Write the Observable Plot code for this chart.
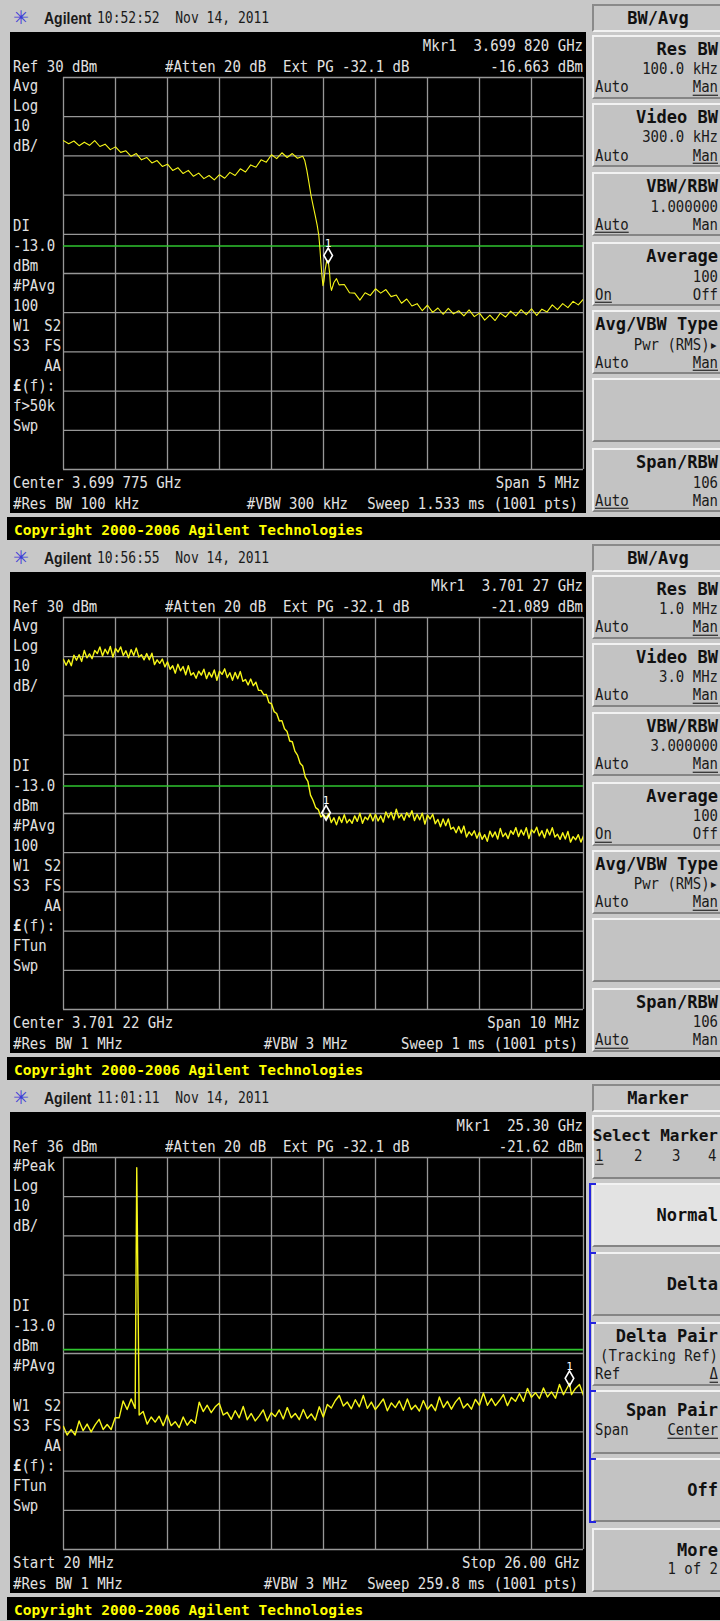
<!DOCTYPE html>
<html>
<head>
<meta charset="utf-8">
<script src="https://cdn.jsdelivr.net/npm/d3@7"></script>
<script src="https://cdn.jsdelivr.net/npm/@observablehq/plot@0.6"></script>
<style>
html,body{margin:0;padding:0}
body{width:720px;height:1621px;position:relative;overflow:hidden;background:#c8c8c8}
.panel{position:absolute;left:0;width:720px;height:540px;overflow:hidden;background:#c8c8c8}
.screen{position:absolute;left:10px;top:32px;width:576px;height:481px;background:#000}
.screen svg{display:block}
.lbl{position:absolute;white-space:pre;line-height:18px;height:18px}
.scr{color:#e2e2e2;font-family:"DejaVu Sans Mono",monospace;font-size:14px;transform:scaleY(1.15)}
.hd{color:#1a1a1a;font-family:"DejaVu Sans Mono",monospace;font-size:13px;transform:scaleY(1.25)}
.hdb{color:#1a1a1a;font-family:"Liberation Sans",Arial,sans-serif;font-size:14px;font-weight:bold;transform:scaleY(1.15)}
.ico{color:#3c3cd8;font-family:"DejaVu Sans",sans-serif;font-size:19px}
.kt{color:#111;font-family:"DejaVu Sans Mono",monospace;font-size:17px;font-weight:bold}
.kv{color:#1a1a1a;font-family:"DejaVu Sans Mono",monospace;font-size:14px;transform:scaleY(1.1)}
.cp{color:#ffff00;font-family:"DejaVu Sans Mono",monospace;font-size:14.5px;font-weight:bold}
.u{text-decoration:underline;text-underline-offset:2px}
.key{position:absolute;left:592px;width:140px;height:64px;box-sizing:border-box;background:#c3c3c3;border-top:2px solid #f2f2f2;border-left:2px solid #f2f2f2;border-bottom:2px solid #858585}
.ttl{position:absolute;left:592px;top:4px;width:140px;height:28px;box-sizing:border-box;background:#c8c8c8;border-top:2px solid #8a8a8a;border-left:2px solid #8a8a8a;border-bottom:2px solid #f2f2f2}
.bar{position:absolute;left:7px;top:517px;width:713px;height:24px;background:#000}
.blue{position:absolute;background:#2424e0}
</style>
</head>
<body>
<script>
// ---------------- DATA ----------------
// Panel 1: offset from centre 3.699 775 GHz (MHz), level (dBm)
const off1 = [-2.5,-2.45,-2.4,-2.35,-2.3,-2.25,-2.2,-2.15,-2.1,-2.05,-2,-1.95,-1.9,-1.85,-1.8,-1.75,-1.7,-1.65,-1.6,-1.55,-1.5,-1.45,-1.4,-1.35,-1.3,-1.25,-1.2,-1.15,-1.1,-1.05,-1,-0.95,-0.9,-0.85,-0.8,-0.75,-0.7,-0.65,-0.6,-0.55,-0.5,-0.45,-0.4,-0.35,-0.3,-0.25,-0.2,
 -0.18,-0.16,-0.14,-0.12,-0.1,-0.08,-0.06,-0.045,-0.035,-0.025,-0.015,-0.005,0.005,0.015,0.03,0.045,0.058,0.067,0.077,0.1,0.125,0.15,
 0.2,0.25,0.3,0.35,0.4,0.45,0.5,0.55,0.6,0.65,0.7,0.75,0.8,0.85,0.9,0.95,1,1.05,1.1,1.15,1.2,1.25,1.3,1.35,1.4,1.45,1.5,1.55,1.6,1.65,1.7,1.75,1.8,1.85,1.9,1.95,2,2.05,2.1,2.15,2.2,2.25,2.3,2.35,2.4,2.45,2.5];
const lvl1 = [13.9,13.1,13.8,12.6,13.5,12.7,13.9,12.4,13.0,11.6,12.3,10.9,11.3,9.9,10.6,9.0,9.6,8.2,8.8,7.3,7.9,6.3,7.0,5.5,6.3,4.8,5.6,4.2,5.0,3.9,5.2,4.3,5.8,5.0,6.7,5.9,7.7,7.1,9.0,8.4,10.3,9.3,10.8,9.6,10.6,9.4,9.9,
 8.8,6.3,3.2,-0.1,-2.7,-5.2,-7.8,-10.3,-13.4,-17.2,-20.5,-23.1,-21.8,-19.2,-16.9,-16.663,-19.7,-23.1,-24.3,-22.3,-21.3,-22.9,
 -22.8,-24.9,-25.0,-26.8,-24.9,-25.6,-23.9,-25.0,-24.1,-25.9,-25.5,-27.6,-26.5,-28.3,-27.7,-29.5,-28.1,-29.9,-28.8,-30.4,-28.9,-30.3,-29.5,-30.8,-29.3,-31.0,-30.1,-31.9,-30.6,-32.0,-30.1,-31.1,-29.6,-30.8,-29.2,-30.5,-29.0,-30.7,-29.1,-29.8,-28.0,-29.2,-27.7,-28.7,-27.1,-28.0,-26.5];

// Panel 2: offset from centre 3.701 22 GHz (MHz), level (dBm)
const off2 = [-5,-4.95,-4.9,-4.85,-4.8,-4.75,-4.7,-4.65,-4.6,-4.55,-4.5,-4.45,-4.4,-4.35,-4.3,-4.25,-4.2,-4.15,-4.1,-4.05,-4,-3.95,-3.9,-3.85,-3.8,-3.75,-3.7,-3.65,-3.6,-3.55,-3.5,-3.45,-3.4,-3.35,-3.3,-3.25,-3.2,-3.15,-3.1,-3.05,-3,-2.95,-2.9,-2.85,-2.8,-2.75,-2.7,-2.65,-2.6,-2.55,-2.5,-2.45,-2.4,-2.35,-2.3,-2.25,-2.2,-2.15,-2.1,-2.05,-2,-1.95,-1.9,-1.85,-1.8,-1.75,-1.7,-1.65,-1.6,-1.55,-1.5,-1.45,-1.4,-1.35,-1.3,-1.25,-1.2,-1.15,-1.1,-1.05,-1,-0.95,-0.9,-0.85,-0.8,-0.75,-0.7,-0.65,-0.6,-0.55,-0.5,-0.45,-0.4,-0.35,-0.3,-0.25,-0.2,-0.15,-0.1,-0.05,
 0,0.05,0.1,0.15,0.2,0.25,0.3,0.35,0.4,0.45,0.5,0.55,0.6,0.65,0.7,0.75,0.8,0.85,0.9,0.95,1,1.05,1.1,1.15,1.2,1.25,1.3,1.35,1.4,1.45,1.5,1.55,1.6,1.65,1.7,1.75,1.8,1.85,1.9,1.95,2,2.05,2.1,2.15,2.2,2.25,2.3,2.35,2.4,2.45,2.5,2.55,2.6,2.65,2.7,2.75,2.8,2.85,2.9,2.95,3,3.05,3.1,3.15,3.2,3.25,3.3,3.35,3.4,3.45,3.5,3.55,3.6,3.65,3.7,3.75,3.8,3.85,3.9,3.95,4,4.05,4.1,4.15,4.2,4.25,4.3,4.35,4.4,4.45,4.5,4.55,4.6,4.65,4.7,4.75,4.8,4.85,4.9,4.95,5];
const lvl2 = [19.3,17.8,19.2,17.7,20.4,19.1,20.5,18.8,21.6,19.7,20.7,19.5,21.6,20.8,22.5,20.2,21.9,20.7,22.6,19.9,
 22.1,21.2,22.5,20.3,21.5,19.7,21.8,20.3,22.2,19.9,20.5,19.2,20.8,19.2,20.9,18.0,19.2,18.3,19.4,17.4,
 18.7,16.8,17.7,15.8,18.1,16.4,17.5,15.4,17.7,15.3,15.9,14.5,16.3,15.3,16.8,14.4,16.0,14.8,16.6,14.0,
 16.3,15.5,16.9,14.7,15.9,14.0,16.0,14.4,16.2,13.7,14.2,12.8,14.3,12.6,13.5,11.4,11.4,10.3,10.4,8.3,
 8.0,6.0,5.5,3.6,3.7,1.6,0.9,-1.5,-1.7,-4.1,-5.1,-7.2,-7.9,-10.7,-11.8,-15.3,-16.7,-18.5,-19.0,-20.9,
 -20.3,-21.089,-20.0,-22.3,-21.1,-22.9,-20.8,-22.3,-20.3,-22.4,-21.5,-22.5,-20.6,-22.0,-19.9,-22.5,-20.9,-21.6,-20.1,-21.9,
 -20.2,-21.9,-20.6,-22.2,-19.6,-21.1,-19.7,-21.6,-18.9,-21.1,-20.2,-21.7,-19.8,-20.9,-19.3,-21.8,-20.2,-21.6,-19.9,-22.7,
 -20.4,-21.4,-20.2,-22.6,-21.5,-23.4,-21.4,-23.1,-21.4,-24.0,-23.5,-24.9,-23.3,-25.0,-23.2,-26.0,-24.7,-25.6,-24.4,-26.3,
 -24.8,-26.6,-25.4,-27.1,-24.5,-26.0,-24.7,-26.5,-23.8,-25.9,-25.0,-26.4,-24.4,-25.3,-23.6,-25.9,-24.2,-25.5,-23.6,-26.4,
 -24.1,-24.9,-23.5,-25.7,-24.4,-26.2,-24.0,-25.5,-23.6,-26.0,-25.3,-26.6,-24.9,-26.5,-24.6,-27.3,-25.9,-26.7,-25.4,-27.3,
 -25.7];

// Panel 3: frequency (GHz), level (dBm)
const f3 = [0.02,0.2,0.4,0.6,0.8,1,1.2,1.4,1.6,1.8,2,2.2,2.4,2.6,2.8,3,3.2,3.4,3.6,3.68,3.71,3.8,
 4,4.2,4.4,4.6,4.8,5,5.2,5.4,5.6,5.8,6,6.2,6.4,6.6,6.8,7,7.2,7.4,7.6,7.8,8,8.2,8.4,8.6,8.8,9,9.2,9.4,9.6,9.8,
 10,10.2,10.4,10.6,10.8,11,11.2,11.4,11.6,11.8,12,12.2,12.4,12.6,12.8,13,13.2,13.4,13.6,13.8,14,14.2,14.4,14.6,14.8,15,15.2,15.4,15.6,15.8,
 16,16.2,16.4,16.6,16.8,17,17.2,17.4,17.6,17.8,18,18.2,18.4,18.6,18.8,19,19.2,19.4,19.6,19.8,20,20.2,20.4,20.6,20.8,21,21.2,21.4,21.6,21.8,
 22,22.2,22.4,22.6,22.8,23,23.2,23.4,23.6,23.8,24,24.2,24.4,24.6,24.8,25,25.2,25.3,25.4,25.6,25.8,26];
const lvl3 = [-32.6,-34.8,-33.4,-34.8,-31.2,-33.7,-32.0,-34.0,-32.2,-30.8,-33.4,-32.1,-33.4,-30.4,-30.4,-26.1,-28.3,-25.6,-28.0,33.4,18.1,-29.7,
 -28.8,-32.0,-30.2,-31.5,-30.0,-32.4,-29.7,-32.4,-31.4,-32.9,-30.2,-32.3,-30.9,-31.8,-26.4,-28.8,-27.2,-29.1,-27.6,-26.7,-29.7,-29.0,-30.8,-28.6,-30.4,-27.5,-30.9,-29.3,-31.2,-29.9,
 -28.4,-31.2,-29.1,-30.1,-28.4,-30.7,-27.8,-30.4,-29.3,-30.9,-28.3,-30.6,-29.4,-31.0,-27.6,-30.2,-27.0,-27.9,-26.0,-24.7,-27.4,-26.4,-28.1,-25.8,-27.6,-24.7,-28.0,-26.4,-28.3,-27.0,
 -25.6,-28.6,-26.6,-27.8,-26.1,-28.5,-25.6,-28.3,-27.2,-28.7,-26.0,-28.3,-27.0,-28.6,-25.1,-27.8,-26.2,-28.2,-26.4,-25.2,-27.9,-26.8,-28.2,-25.7,-27.2,-24.1,-27.2,-25.5,-27.3,-26.0,
 -24.5,-27.3,-25.2,-26.2,-24.2,-26.2,-22.9,-25.2,-24.0,-25.5,-22.8,-25.1,-23.8,-25.4,-21.9,-24.5,-22.6,-21.62,-24.5,-22.9,-21.9,-24.7];

// Instrument settings
const refLevels = [30, 30, 36];          // dBm at top graticule
const dbPerDiv = 10;
const displayLine = -13;                 // dBm
const xDomains = [[-2.5, 2.5], [-5, 5], [0.02, 26.0]];
const markers = [{x: 0.045, y: -16.663, label: "1"}, {x: 0.05, y: -21.089, label: "1"}, {x: 25.30, y: -21.62, label: "1"}];
const traceWidths = [1.1, 1.4, 1.4];

// Texts
const times = ["10:52:52  Nov 14, 2011", "10:56:55  Nov 14, 2011", "11:01:11  Nov 14, 2011"];
const mkrFreq = ["Mkr1  3.699 820 GHz", "Mkr1  3.701 27 GHz", "Mkr1  25.30 GHz"];
const mkrAmp = ["-16.663 dBm", "-21.089 dBm", "-21.62 dBm"];
const refText = ["Ref 30 dBm", "Ref 30 dBm", "Ref 36 dBm"];
const attenText = "#Atten 20 dB  Ext PG -32.1 dB";
const leftCol1 = ["Avg","Log","10","dB/","","","","DI","-13.0","dBm","#PAvg","100","W1 S2","S3 FS","AA","£(f):","f>50k","Swp"];
const leftCol2 = ["Avg","Log","10","dB/","","","","DI","-13.0","dBm","#PAvg","100","W1 S2","S3 FS","AA","£(f):","FTun","Swp"];
const leftCol3 = ["#Peak","Log","10","dB/","","","","DI","-13.0","dBm","#PAvg","","W1 S2","S3 FS","AA","£(f):","FTun","Swp"];
const bottomL1 = ["Center 3.699 775 GHz", "Center 3.701 22 GHz", "Start 20 MHz"];
const bottomR1 = ["Span 5 MHz", "Span 10 MHz", "Stop 26.00 GHz"];
const resBW = ["#Res BW 100 kHz", "#Res BW 1 MHz", "#Res BW 1 MHz"];
const vbw = ["#VBW 300 kHz", "#VBW 3 MHz", "#VBW 3 MHz"];
const sweep = ["Sweep 1.533 ms (1001 pts)", "Sweep 1 ms (1001 pts)", "Sweep 259.8 ms (1001 pts)"];
const menus = ["BW/Avg", "BW/Avg", "Marker"];
const keys1 = [
  {t:"Res BW", v:"100.0 kHz", l:"Auto", r:"Man", u:"r"},
  {t:"Video BW", v:"300.0 kHz", l:"Auto", r:"Man", u:"r"},
  {t:"VBW/RBW", v:"1.000000", l:"Auto", r:"Man", u:"l"},
  {t:"Average", v:"100", l:"On", r:"Off", u:"l"},
  {t:"Avg/VBW Type", v:"Pwr (RMS)▸", l:"Auto", r:"Man", u:"r"},
  {},
  {t:"Span/RBW", v:"106", l:"Auto", r:"Man", u:"l"}];
const keys2 = [
  {t:"Res BW", v:"1.0 MHz", l:"Auto", r:"Man", u:"r"},
  {t:"Video BW", v:"3.0 MHz", l:"Auto", r:"Man", u:"r"},
  {t:"VBW/RBW", v:"3.000000", l:"Auto", r:"Man", u:"r"},
  {t:"Average", v:"100", l:"On", r:"Off", u:"l"},
  {t:"Avg/VBW Type", v:"Pwr (RMS)▸", l:"Auto", r:"Man", u:"r"},
  {},
  {t:"Span/RBW", v:"106", l:"Auto", r:"Man", u:"l"}];
const keys3 = [
  {t:"Select Marker", tY:21, nums:["1","2","3","4"], fs:16},
  {t:"Normal", tY:32, bg:"#e3e3e3"},
  {t:"Delta", tY:32},
  {t:"Delta Pair", tY:14, v:"(Tracking Ref)", l:"Ref", r:"Δ", u:"r"},
  {t:"Span Pair", tY:20, l:"Span", r:"Center", u:"r", lY:40},
  {t:"Off", tY:32},
  {t:"More", tY:22, v:"1 of 2", vY:41}];
const copyright = "Copyright 2000-2006 Agilent Technologies";

// ---------------- LAYOUT ----------------
const keyTops = [35, 103, 172, 242, 310, 378, 448];
const keyRight = 718;

function lbl(parent, str, x, y, cls, anchor = "start", html = false) {
  const e = document.createElement("div");
  e.className = "lbl " + cls;
  if (html) e.innerHTML = str; else e.textContent = str;
  e.style.top = (y - 9) + "px";
  if (anchor === "start") e.style.left = x + "px";
  else if (anchor === "end") e.style.right = (720 - x) + "px";
  else { e.style.left = x + "px"; e.style.transform = "translateX(-50%)"; }
  parent.appendChild(e);
  return e;
}
function box(parent, cls, style) {
  const e = document.createElement("div");
  e.className = cls;
  Object.assign(e.style, style || {});
  parent.appendChild(e);
  return e;
}

function screenPlot(i, xs, ys) {
  const data = xs.map((x, j) => ({x, y: ys[j]}));
  const [x0, x1] = xDomains[i];
  const top = refLevels[i], bottom = top - 10 * dbPerDiv;
  const xGrid = d3.range(11).map(k => x0 + k * (x1 - x0) / 10);
  const yGrid = d3.range(11).map(k => bottom + k * dbPerDiv);
  return Plot.plot({
    width: 576, height: 481,
    marginTop: 45, marginRight: 3, marginBottom: 44, marginLeft: 53,
    x: {domain: [x0, x1], axis: null},
    y: {domain: [bottom, top], axis: null},
    style: {background: "#000", overflow: "visible"},
    marks: [
      Plot.ruleX(xGrid, {stroke: "#979797", strokeWidth: 1.3}),
      Plot.ruleY(yGrid, {stroke: "#979797", strokeWidth: 1.3}),
      Plot.ruleY([displayLine], {stroke: "#2fc52f", strokeWidth: 1.6}),
      Plot.line(data, {x: "x", y: "y", stroke: "#f6f618", strokeWidth: traceWidths[i], clip: true}),
      Plot.dot([markers[i]], {x: "x", y: "y", symbol: "diamond", r: 4.5, stroke: "#ffffff", strokeWidth: 1.6, fill: "none", dy: -5}),
      Plot.text([markers[i]], {x: "x", y: "y", text: "label", dy: -17, fill: "#ffffff", fontSize: 11, fontFamily: "DejaVu Sans Mono"})
    ]
  });
}

const traces = [[off1, lvl1], [off2, lvl2], [f3, lvl3]];
const leftCols = [leftCol1, leftCol2, leftCol3];
const keysets = [keys1, keys2, keys3];

for (let i = 0; i < 3; i++) {
  const p = box(document.body, "panel", {top: (i * 540) + "px"});
  // header
  lbl(p, "✳", 13, 17, "ico");
  lbl(p, "Agilent", 44, 18, "hdb");
  lbl(p, times[i], 97, 18, "hd");
  // screen
  const s = box(p, "screen");
  s.appendChild(screenPlot(i, traces[i][0], traces[i][1]));
  // screen texts
  lbl(p, mkrFreq[i], 583, 45, "scr", "end");
  lbl(p, mkrAmp[i], 583, 66, "scr", "end");
  lbl(p, refText[i], 13, 66, "scr");
  lbl(p, attenText, 165, 66, "scr");
  leftCols[i].forEach((t, k) => {
    if (!t) return;
    const y = 85 + 20 * k;
    if (t === "AA") lbl(p, t, 61, y, "scr", "end");
    else if (t === "W1 S2" || t === "S3 FS") { const e = lbl(p, t, 13, y, "scr"); e.style.wordSpacing = "6px"; }
    else if (t.startsWith("£")) lbl(p, "<b>£</b>" + t.slice(1), 13, y, "scr", "start", true);
    else lbl(p, t, 13, y, "scr");
  });
  lbl(p, bottomL1[i], 13, 482, "scr");
  lbl(p, bottomR1[i], 580, 482, "scr", "end");
  lbl(p, resBW[i], 13, 503, "scr");
  lbl(p, vbw[i], 348, 503, "scr", "end");
  lbl(p, sweep[i], 578, 503, "scr", "end");
  // copyright bar
  box(p, "bar");
  lbl(p, copyright, 14, 530, "cp");
  // softkey menu
  box(p, "ttl");
  lbl(p, menus[i], 658, 18, "kt", "middle");
  keysets[i].forEach((k, j) => {
    const T = keyTops[j];
    box(p, "key", {top: T + "px", background: k.bg || "#c3c3c3"});
    if (k.t) { const e = lbl(p, k.t, keyRight, T + (k.tY || 14), "kt", "end"); if (k.fs) e.style.fontSize = k.fs + "px"; }
    if (k.v) lbl(p, k.v, keyRight, T + (k.vY || 34), "kv", "end");
    if (k.l) { const e = lbl(p, k.l, 595, T + (k.lY || 52), "kv"); if (k.u === "l") e.classList.add("u"); }
    if (k.r) { const e = lbl(p, k.r, keyRight, T + (k.lY || 52), "kv", "end"); if (k.u === "r") e.classList.add("u"); }
    if (k.nums) {
      const xs = [595, 634, 672, 708];
      k.nums.forEach((n, q) => { const e = lbl(p, n, xs[q], T + 41, "kv"); if (q === 0) e.classList.add("u"); });
    }
  });
  if (i === 2) {
    box(p, "blue", {left: "589px", top: "103px", width: "2px", height: "340px"});
    [103, 172, 242, 310, 378, 441].forEach(y => box(p, "blue", {left: "589px", top: y + "px", width: "7px", height: "2px"}));
  }
}
</script>
</body>
</html>
